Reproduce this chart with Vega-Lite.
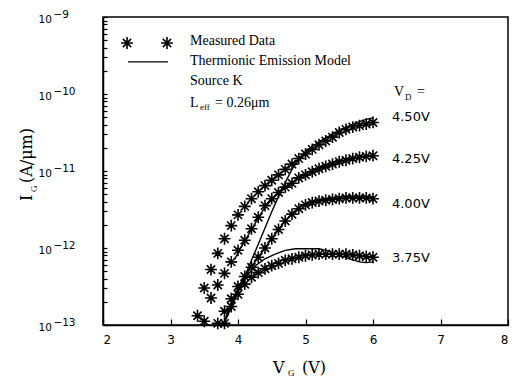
{
  "$schema": "https://vega.github.io/schema/vega-lite/v6.json",
  "width": 405,
  "height": 308,
  "autosize": {"type": "none"},
  "padding": {"left": 103, "top": 17, "right": 7, "bottom": 58},
  "background": "white",
  "config": {
    "view": {"stroke": null},
    "axis": {"domainColor": "black", "domainWidth": 1.5, "tickColor": "black", "tickWidth": 1.2, "grid": false, "labelColor": "black", "titleColor": "black"}
  },
  "datasets": {
    "measured": [
      {"vd": "4.50V", "vg": 3.4, "ig": 1.32e-13}, {"vd": "4.50V", "vg": 3.5, "ig": 3.02e-13}, {"vd": "4.50V", "vg": 3.6, "ig": 5.25e-13}, {"vd": "4.50V", "vg": 3.7, "ig": 8.51e-13},
      {"vd": "4.50V", "vg": 3.8, "ig": 1.32e-12}, {"vd": "4.50V", "vg": 3.9, "ig": 1.95e-12}, {"vd": "4.50V", "vg": 4.0, "ig": 2.69e-12}, {"vd": "4.50V", "vg": 4.1, "ig": 3.47e-12},
      {"vd": "4.50V", "vg": 4.2, "ig": 4.37e-12}, {"vd": "4.50V", "vg": 4.3, "ig": 5.37e-12}, {"vd": "4.50V", "vg": 4.4, "ig": 6.46e-12}, {"vd": "4.50V", "vg": 4.5, "ig": 7.59e-12},
      {"vd": "4.50V", "vg": 4.6, "ig": 8.91e-12}, {"vd": "4.50V", "vg": 4.7, "ig": 1.05e-11}, {"vd": "4.50V", "vg": 4.8, "ig": 1.23e-11}, {"vd": "4.50V", "vg": 4.9, "ig": 1.45e-11},
      {"vd": "4.50V", "vg": 5.0, "ig": 1.66e-11}, {"vd": "4.50V", "vg": 5.1, "ig": 1.91e-11}, {"vd": "4.50V", "vg": 5.2, "ig": 2.19e-11}, {"vd": "4.50V", "vg": 5.3, "ig": 2.45e-11},
      {"vd": "4.50V", "vg": 5.4, "ig": 2.75e-11}, {"vd": "4.50V", "vg": 5.5, "ig": 3.16e-11}, {"vd": "4.50V", "vg": 5.6, "ig": 3.47e-11}, {"vd": "4.50V", "vg": 5.7, "ig": 3.72e-11},
      {"vd": "4.50V", "vg": 5.8, "ig": 3.89e-11}, {"vd": "4.50V", "vg": 5.9, "ig": 4.07e-11}, {"vd": "4.50V", "vg": 6.0, "ig": 4.27e-11},
      {"vd": "4.25V", "vg": 3.5, "ig": 1.12e-13}, {"vd": "4.25V", "vg": 3.6, "ig": 2.24e-13}, {"vd": "4.25V", "vg": 3.7, "ig": 3.31e-13}, {"vd": "4.25V", "vg": 3.8, "ig": 4.68e-13},
      {"vd": "4.25V", "vg": 3.9, "ig": 6.61e-13}, {"vd": "4.25V", "vg": 4.0, "ig": 9.33e-13}, {"vd": "4.25V", "vg": 4.1, "ig": 1.26e-12}, {"vd": "4.25V", "vg": 4.2, "ig": 1.78e-12},
      {"vd": "4.25V", "vg": 4.3, "ig": 2.51e-12}, {"vd": "4.25V", "vg": 4.4, "ig": 3.55e-12}, {"vd": "4.25V", "vg": 4.5, "ig": 4.37e-12}, {"vd": "4.25V", "vg": 4.6, "ig": 5.25e-12},
      {"vd": "4.25V", "vg": 4.7, "ig": 6.17e-12}, {"vd": "4.25V", "vg": 4.8, "ig": 6.92e-12}, {"vd": "4.25V", "vg": 4.9, "ig": 8.13e-12}, {"vd": "4.25V", "vg": 5.0, "ig": 8.91e-12},
      {"vd": "4.25V", "vg": 5.1, "ig": 9.77e-12}, {"vd": "4.25V", "vg": 5.2, "ig": 1.07e-11}, {"vd": "4.25V", "vg": 5.3, "ig": 1.15e-11}, {"vd": "4.25V", "vg": 5.4, "ig": 1.23e-11},
      {"vd": "4.25V", "vg": 5.5, "ig": 1.32e-11}, {"vd": "4.25V", "vg": 5.6, "ig": 1.38e-11}, {"vd": "4.25V", "vg": 5.7, "ig": 1.45e-11}, {"vd": "4.25V", "vg": 5.8, "ig": 1.51e-11},
      {"vd": "4.25V", "vg": 5.9, "ig": 1.55e-11}, {"vd": "4.25V", "vg": 6.0, "ig": 1.58e-11},
      {"vd": "4.00V", "vg": 3.7, "ig": 1.05e-13}, {"vd": "4.00V", "vg": 3.8, "ig": 1.51e-13}, {"vd": "4.00V", "vg": 3.9, "ig": 2.19e-13}, {"vd": "4.00V", "vg": 4.0, "ig": 3.16e-13},
      {"vd": "4.00V", "vg": 4.1, "ig": 4.27e-13}, {"vd": "4.00V", "vg": 4.2, "ig": 5.62e-13}, {"vd": "4.00V", "vg": 4.3, "ig": 7.59e-13}, {"vd": "4.00V", "vg": 4.4, "ig": 1.0e-12},
      {"vd": "4.00V", "vg": 4.5, "ig": 1.32e-12}, {"vd": "4.00V", "vg": 4.6, "ig": 1.74e-12}, {"vd": "4.00V", "vg": 4.7, "ig": 2.24e-12}, {"vd": "4.00V", "vg": 4.8, "ig": 2.75e-12},
      {"vd": "4.00V", "vg": 4.9, "ig": 3.24e-12}, {"vd": "4.00V", "vg": 5.0, "ig": 3.63e-12}, {"vd": "4.00V", "vg": 5.1, "ig": 3.89e-12}, {"vd": "4.00V", "vg": 5.2, "ig": 4.07e-12},
      {"vd": "4.00V", "vg": 5.3, "ig": 4.17e-12}, {"vd": "4.00V", "vg": 5.4, "ig": 4.27e-12}, {"vd": "4.00V", "vg": 5.5, "ig": 4.37e-12}, {"vd": "4.00V", "vg": 5.6, "ig": 4.47e-12},
      {"vd": "4.00V", "vg": 5.7, "ig": 4.47e-12}, {"vd": "4.00V", "vg": 5.8, "ig": 4.47e-12}, {"vd": "4.00V", "vg": 5.9, "ig": 4.47e-12}, {"vd": "4.00V", "vg": 6.0, "ig": 4.37e-12},
      {"vd": "3.75V", "vg": 3.8, "ig": 1.05e-13}, {"vd": "3.75V", "vg": 3.9, "ig": 1.74e-13}, {"vd": "3.75V", "vg": 4.0, "ig": 2.51e-13}, {"vd": "3.75V", "vg": 4.1, "ig": 3.39e-13},
      {"vd": "3.75V", "vg": 4.2, "ig": 4.17e-13}, {"vd": "3.75V", "vg": 4.3, "ig": 4.79e-13}, {"vd": "3.75V", "vg": 4.4, "ig": 5.37e-13}, {"vd": "3.75V", "vg": 4.5, "ig": 5.89e-13},
      {"vd": "3.75V", "vg": 4.6, "ig": 6.31e-13}, {"vd": "3.75V", "vg": 4.7, "ig": 6.92e-13}, {"vd": "3.75V", "vg": 4.8, "ig": 7.24e-13}, {"vd": "3.75V", "vg": 4.9, "ig": 7.59e-13},
      {"vd": "3.75V", "vg": 5.0, "ig": 7.94e-13}, {"vd": "3.75V", "vg": 5.1, "ig": 8.13e-13}, {"vd": "3.75V", "vg": 5.2, "ig": 8.32e-13}, {"vd": "3.75V", "vg": 5.3, "ig": 8.32e-13},
      {"vd": "3.75V", "vg": 5.4, "ig": 8.32e-13}, {"vd": "3.75V", "vg": 5.5, "ig": 8.32e-13}, {"vd": "3.75V", "vg": 5.6, "ig": 8.32e-13}, {"vd": "3.75V", "vg": 5.7, "ig": 8.13e-13},
      {"vd": "3.75V", "vg": 5.8, "ig": 7.94e-13}, {"vd": "3.75V", "vg": 5.9, "ig": 7.76e-13}, {"vd": "3.75V", "vg": 6.0, "ig": 7.59e-13}
    ],
    "model": [
      {"vd": "4.50V", "vg": 3.78, "ig": 1.0e-13}, {"vd": "4.50V", "vg": 3.85, "ig": 1.35e-13}, {"vd": "4.50V", "vg": 3.9, "ig": 1.7e-13}, {"vd": "4.50V", "vg": 4.0, "ig": 2.63e-13},
      {"vd": "4.50V", "vg": 4.1, "ig": 4.27e-13}, {"vd": "4.50V", "vg": 4.2, "ig": 6.92e-13}, {"vd": "4.50V", "vg": 4.3, "ig": 1.12e-12}, {"vd": "4.50V", "vg": 4.4, "ig": 1.82e-12},
      {"vd": "4.50V", "vg": 4.5, "ig": 2.95e-12}, {"vd": "4.50V", "vg": 4.6, "ig": 4.68e-12}, {"vd": "4.50V", "vg": 4.7, "ig": 7.08e-12}, {"vd": "4.50V", "vg": 4.8, "ig": 1.05e-11},
      {"vd": "4.50V", "vg": 4.9, "ig": 1.41e-11}, {"vd": "4.50V", "vg": 5.0, "ig": 1.78e-11}, {"vd": "4.50V", "vg": 5.1, "ig": 2.09e-11}, {"vd": "4.50V", "vg": 5.2, "ig": 2.4e-11},
      {"vd": "4.50V", "vg": 5.3, "ig": 2.69e-11}, {"vd": "4.50V", "vg": 5.4, "ig": 3.02e-11}, {"vd": "4.50V", "vg": 5.5, "ig": 3.39e-11}, {"vd": "4.50V", "vg": 5.6, "ig": 3.72e-11},
      {"vd": "4.50V", "vg": 5.7, "ig": 4.07e-11}, {"vd": "4.50V", "vg": 5.8, "ig": 4.37e-11}, {"vd": "4.50V", "vg": 5.9, "ig": 4.68e-11}, {"vd": "4.50V", "vg": 6.0, "ig": 4.9e-11},
      {"vd": "4.25V", "vg": 3.95, "ig": 7.08e-13}, {"vd": "4.25V", "vg": 4.0, "ig": 8.71e-13}, {"vd": "4.25V", "vg": 4.1, "ig": 1.23e-12}, {"vd": "4.25V", "vg": 4.2, "ig": 1.74e-12},
      {"vd": "4.25V", "vg": 4.3, "ig": 2.45e-12}, {"vd": "4.25V", "vg": 4.4, "ig": 3.39e-12}, {"vd": "4.25V", "vg": 4.5, "ig": 4.27e-12}, {"vd": "4.25V", "vg": 4.6, "ig": 5.13e-12},
      {"vd": "4.25V", "vg": 4.7, "ig": 6.03e-12}, {"vd": "4.25V", "vg": 4.8, "ig": 7.08e-12}, {"vd": "4.25V", "vg": 4.9, "ig": 8.13e-12}, {"vd": "4.25V", "vg": 5.0, "ig": 9.12e-12},
      {"vd": "4.25V", "vg": 5.2, "ig": 1.07e-11}, {"vd": "4.25V", "vg": 5.4, "ig": 1.23e-11}, {"vd": "4.25V", "vg": 5.6, "ig": 1.38e-11}, {"vd": "4.25V", "vg": 5.8, "ig": 1.51e-11},
      {"vd": "4.25V", "vg": 6.0, "ig": 1.62e-11},
      {"vd": "4.00V", "vg": 3.78, "ig": 1.0e-13}, {"vd": "4.00V", "vg": 3.85, "ig": 1.48e-13}, {"vd": "4.00V", "vg": 3.9, "ig": 1.91e-13}, {"vd": "4.00V", "vg": 4.0, "ig": 3.02e-13},
      {"vd": "4.00V", "vg": 4.1, "ig": 4.37e-13}, {"vd": "4.00V", "vg": 4.2, "ig": 5.75e-13}, {"vd": "4.00V", "vg": 4.3, "ig": 7.59e-13}, {"vd": "4.00V", "vg": 4.4, "ig": 1.0e-12},
      {"vd": "4.00V", "vg": 4.5, "ig": 1.32e-12}, {"vd": "4.00V", "vg": 4.6, "ig": 1.74e-12}, {"vd": "4.00V", "vg": 4.7, "ig": 2.24e-12}, {"vd": "4.00V", "vg": 4.8, "ig": 2.82e-12},
      {"vd": "4.00V", "vg": 4.9, "ig": 3.31e-12}, {"vd": "4.00V", "vg": 5.0, "ig": 3.72e-12}, {"vd": "4.00V", "vg": 5.2, "ig": 4.17e-12}, {"vd": "4.00V", "vg": 5.4, "ig": 4.47e-12},
      {"vd": "4.00V", "vg": 5.6, "ig": 4.68e-12}, {"vd": "4.00V", "vg": 5.8, "ig": 4.68e-12}, {"vd": "4.00V", "vg": 6.0, "ig": 4.57e-12},
      {"vd": "3.75V", "vg": 3.78, "ig": 1.0e-13}, {"vd": "3.75V", "vg": 3.85, "ig": 1.41e-13}, {"vd": "3.75V", "vg": 3.9, "ig": 1.82e-13}, {"vd": "3.75V", "vg": 3.96, "ig": 2.34e-13},
      {"vd": "3.75V", "vg": 4.05, "ig": 3.31e-13}, {"vd": "3.75V", "vg": 4.15, "ig": 4.57e-13}, {"vd": "3.75V", "vg": 4.26, "ig": 5.89e-13}, {"vd": "3.75V", "vg": 4.4, "ig": 7.24e-13},
      {"vd": "3.75V", "vg": 4.55, "ig": 8.32e-13}, {"vd": "3.75V", "vg": 4.7, "ig": 9.33e-13}, {"vd": "3.75V", "vg": 4.85, "ig": 9.77e-13}, {"vd": "3.75V", "vg": 5.0, "ig": 9.77e-13},
      {"vd": "3.75V", "vg": 5.2, "ig": 9.77e-13}, {"vd": "3.75V", "vg": 5.35, "ig": 9.12e-13}, {"vd": "3.75V", "vg": 5.5, "ig": 8.13e-13}, {"vd": "3.75V", "vg": 5.65, "ig": 7.24e-13},
      {"vd": "3.75V", "vg": 5.8, "ig": 6.61e-13}, {"vd": "3.75V", "vg": 5.9, "ig": 6.46e-13}, {"vd": "3.75V", "vg": 6.0, "ig": 6.61e-13}
    ],
    "frame": [{"x": 2, "x2": 8, "y": 1e-13, "y2": 1e-9}],
    "legendPts": [{"x": 2.356, "y": 4.59e-10}, {"x": 2.948, "y": 4.59e-10}],
    "legendLine": [{"x": 2.37, "y": 2.61e-10}, {"x": 2.963, "y": 2.61e-10}],
    "legendText": [
      {"x": 3.289, "y": 4.33e-10, "t": "Measured Data"},
      {"x": 3.289, "y": 2.38e-10, "t": "Thermionic Emission Model"},
      {"x": 3.289, "y": 1.31e-10, "t": "Source K"},
      {"x": 3.289, "y": 6.78e-11, "t": "L"},
      {"x": 3.659, "y": 6.78e-11, "t": "= 0.26μm"},
      {"x": 6.311, "y": 9.42e-11, "t": "V"},
      {"x": 6.652, "y": 9.42e-11, "t": "="}
    ],
    "subText": [
      {"x": 3.437, "y": 6.19e-11, "t": "eff"},
      {"x": 6.474, "y": 8.36e-11, "t": "D"},
      {"x": 4.741, "y": 2.18e-14, "t": "G"}
    ],
    "curveLabels": [
      {"x": 6.281, "y": 4.46e-11, "t": "4.50V"},
      {"x": 6.281, "y": 1.27e-11, "t": "4.25V"},
      {"x": 6.281, "y": 3.3e-12, "t": "4.00V"},
      {"x": 6.281, "y": 6.58e-13, "t": "3.75V"}
    ],
    "xTitle": [
      {"x": 4.519, "y": 2.38e-14, "t": "V"},
      {"x": 4.948, "y": 2.38e-14, "t": "(V)"}
    ],
    "yTitle": [
      {"x": 0.948, "y": 4.07e-12, "t": "I"},
      {"x": 0.948, "y": 6.98e-12, "t": "(A/μm)"}
    ],
    "yTitleSub": [{"x": 1.022, "y": 5.33e-12, "t": "G"}],
    "yBase": [
      {"x": 1.244, "y": 1e-9, "t": "10"}, {"x": 1.244, "y": 1e-10, "t": "10"}, {"x": 1.244, "y": 1e-11, "t": "10"},
      {"x": 1.244, "y": 1e-12, "t": "10"}, {"x": 1.244, "y": 1e-13, "t": "10"}
    ],
    "yExp": [
      {"x": 1.265, "y": 1e-9, "t": "−9"}, {"x": 1.265, "y": 1e-10, "t": "−10"}, {"x": 1.265, "y": 1e-11, "t": "−11"},
      {"x": 1.265, "y": 1e-12, "t": "−12"}, {"x": 1.265, "y": 1e-13, "t": "−13"}
    ]
  },
  "layer": [
    {
      "data": {"name": "model"},
      "mark": {"type": "line", "color": "black", "strokeWidth": 1.4},
      "encoding": {
        "x": {"field": "vg", "type": "quantitative", "scale": {"domain": [2, 8], "nice": false, "zero": false},
              "axis": {"orient": "bottom", "title": null, "values": [2, 3, 4, 5, 6, 7, 8], "format": "d", "domain": true, "ticks": true, "tickSize": -6, "labelPadding": 15, "labelFont": "DejaVu Sans", "labelFontSize": 12}},
        "y": {"field": "ig", "type": "quantitative", "scale": {"type": "log", "domain": [1e-13, 1e-9], "nice": false},
              "axis": {"orient": "left", "labels": false, "title": null, "domain": true, "ticks": true, "tickSize": -4,
                       "values": [1e-13, 2e-13, 3e-13, 4e-13, 5e-13, 6e-13, 7e-13, 8e-13, 9e-13, 1e-12, 2e-12, 3e-12, 4e-12, 5e-12, 6e-12, 7e-12, 8e-12, 9e-12, 1e-11, 2e-11, 3e-11, 4e-11, 5e-11, 6e-11, 7e-11, 8e-11, 9e-11, 1e-10, 2e-10, 3e-10, 4e-10, 5e-10, 6e-10, 7e-10, 8e-10, 9e-10, 1e-9]}},
        "detail": {"field": "vd"}
      }
    },
    {
      "data": {"name": "frame"},
      "mark": {"type": "rect", "filled": false, "color": "black", "strokeWidth": 1.5},
      "encoding": {
        "x": {"field": "x", "type": "quantitative"},
        "x2": {"field": "x2"},
        "y": {"field": "y", "type": "quantitative"},
        "y2": {"field": "y2"}
      }
    },
    {
      "data": {"name": "measured"},
      "mark": {"type": "point", "shape": "M0,-1L0,1M-1,0L1,0M-0.7,-0.7L0.7,0.7M-0.7,0.7L0.7,-0.7", "filled": false, "color": "black", "strokeWidth": 1.6, "size": 140, "opacity": 1},
      "encoding": {
        "x": {"field": "vg", "type": "quantitative"},
        "y": {"field": "ig", "type": "quantitative"},
        "detail": {"field": "vd"}
      }
    },
    {
      "data": {"name": "legendPts"},
      "mark": {"type": "point", "shape": "M0,-1L0,1M-1,0L1,0M-0.7,-0.7L0.7,0.7M-0.7,0.7L0.7,-0.7", "filled": false, "color": "black", "strokeWidth": 1.6, "size": 140, "opacity": 1},
      "encoding": {
        "x": {"field": "x", "type": "quantitative"},
        "y": {"field": "y", "type": "quantitative"}
      }
    },
    {
      "data": {"name": "legendLine"},
      "mark": {"type": "line", "color": "black", "strokeWidth": 1.4},
      "encoding": {
        "x": {"field": "x", "type": "quantitative"},
        "y": {"field": "y", "type": "quantitative"}
      }
    },
    {
      "data": {"name": "legendText"},
      "mark": {"type": "text", "font": "Liberation Serif", "fontSize": 14, "align": "left", "baseline": "alphabetic", "color": "black"},
      "encoding": {
        "x": {"field": "x", "type": "quantitative"},
        "y": {"field": "y", "type": "quantitative"},
        "text": {"field": "t"}
      }
    },
    {
      "data": {"name": "subText"},
      "mark": {"type": "text", "font": "Liberation Serif", "fontSize": 9, "align": "left", "baseline": "alphabetic", "color": "black"},
      "encoding": {
        "x": {"field": "x", "type": "quantitative"},
        "y": {"field": "y", "type": "quantitative"},
        "text": {"field": "t"}
      }
    },
    {
      "data": {"name": "curveLabels"},
      "mark": {"type": "text", "font": "DejaVu Sans", "fontSize": 13, "align": "left", "baseline": "alphabetic", "color": "black"},
      "encoding": {
        "x": {"field": "x", "type": "quantitative"},
        "y": {"field": "y", "type": "quantitative"},
        "text": {"field": "t"}
      }
    },
    {
      "data": {"name": "xTitle"},
      "mark": {"type": "text", "font": "DejaVu Serif", "fontSize": 16, "align": "left", "baseline": "alphabetic", "color": "black"},
      "encoding": {
        "x": {"field": "x", "type": "quantitative"},
        "y": {"field": "y", "type": "quantitative"},
        "text": {"field": "t"}
      }
    },
    {
      "data": {"name": "yTitle"},
      "mark": {"type": "text", "font": "DejaVu Serif", "fontSize": 16, "angle": 270, "align": "left", "baseline": "alphabetic", "color": "black"},
      "encoding": {
        "x": {"field": "x", "type": "quantitative"},
        "y": {"field": "y", "type": "quantitative"},
        "text": {"field": "t"}
      }
    },
    {
      "data": {"name": "yTitleSub"},
      "mark": {"type": "text", "font": "Liberation Serif", "fontSize": 9, "angle": 270, "align": "left", "baseline": "alphabetic", "color": "black"},
      "encoding": {
        "x": {"field": "x", "type": "quantitative"},
        "y": {"field": "y", "type": "quantitative"},
        "text": {"field": "t"}
      }
    },
    {
      "data": {"name": "yBase"},
      "mark": {"type": "text", "font": "DejaVu Sans", "fontSize": 10.5, "align": "right", "baseline": "middle", "dy": 2.5, "color": "black"},
      "encoding": {
        "x": {"field": "x", "type": "quantitative"},
        "y": {"field": "y", "type": "quantitative"},
        "text": {"field": "t"}
      }
    },
    {
      "data": {"name": "yExp"},
      "mark": {"type": "text", "font": "DejaVu Sans", "fontSize": 10.5, "align": "left", "baseline": "middle", "dy": -2, "color": "black"},
      "encoding": {
        "x": {"field": "x", "type": "quantitative"},
        "y": {"field": "y", "type": "quantitative"},
        "text": {"field": "t"}
      }
    }
  ]
}
